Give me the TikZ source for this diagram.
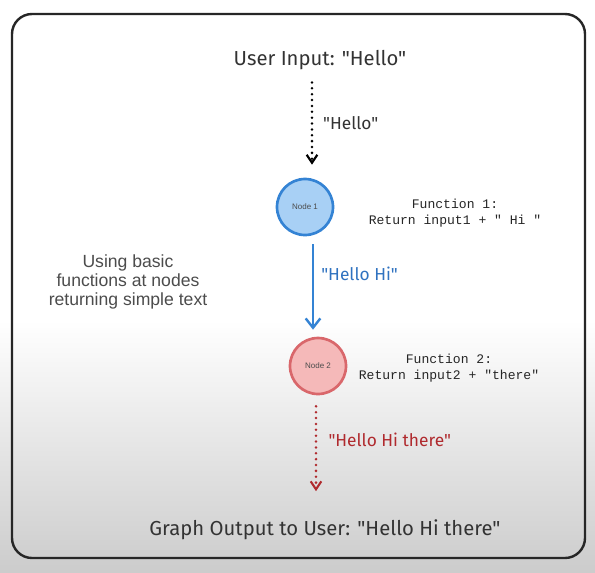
\documentclass[tikz,border=0pt]{standalone}
\usepackage{fontspec}
\setmainfont{Liberation Sans}
\setmonofont{Liberation Mono}
\newfontfamily\handfont{Fira Sans}
\usepackage{xcolor}
\usetikzlibrary{positioning,calc,arrows.meta}

\definecolor{oneline}{HTML}{3483D4}
\definecolor{onefill}{HTML}{A8D0F5}
\definecolor{twoline}{HTML}{D9676B}
\definecolor{twofill}{HTML}{F5B9B9}
\definecolor{onetext}{HTML}{2F72C0}
\definecolor{twotext}{HTML}{B02A2E}

\tikzset{
    hand/.style={font=\handfont\fontsize{13}{15}\selectfont, text=black!80},
    bighand/.style={font=\handfont\fontsize{15.2}{17}\selectfont, text=black!80},
    bubble/.style={circle, line width=2pt, minimum size=42pt, inner sep=0pt,
        font=\fontsize{6}{7}\selectfont, text=black!70},
    func/.style={font=\ttfamily\fontsize{9.8}{12}\selectfont, align=center, text=black!85},
    note/.style={font=\fontsize{13.2}{14.2}\selectfont, align=center, text=black!70},
    dotflow/.style={line width=2.1pt, line cap=round, dash pattern=on 0pt off 4.4pt,
        -{Straight Barb[length=6pt,width=8pt,line width=1.6pt]}},
    flow/.style={line width=1.8pt, -{Straight Barb[length=7pt,width=11pt,line width=1.8pt]}}
}

\begin{document}
\begin{tikzpicture}[x=0.75pt,y=-0.75pt]
    \fill [white] (0,0) rectangle (595,320);
    \shade [top color=white, bottom color=black!20] (0,320) rectangle (595,572);
    \useasboundingbox (0,0) rectangle (595,572);
    \draw [line width=1.8pt, rounded corners=15pt, black!85] (12,14) rectangle (585,558); % frame

    \node [bighand] (input) at (320,60) {User Input: "Hello"};
    \node [bubble, fill=onefill, draw=oneline] (n1) at (305,207) {Node 1};
    \node [bubble, fill=twofill, draw=twoline] (n2) at (318,366) {Node 2};
    \node [func] (f1) at (455,213) {Function 1:\\Return input1 + " Hi "};
    \node [func] (f2) at (449,368) {Function 2:\\Return input2 + "there"};
    \node [note] (note) at (128,282) {Using basic\\functions at nodes\\returning simple text};
    \node [bighand] (output) at (325,530) {Graph Output to User: "Hello Hi there"};

    % edges
    \draw [dotflow] ($(input.south)+(-8,8)$) -- ($(n1.north)+(7,-13)$)
        node [midway, right=4pt, hand] {"Hello"};
    \draw [flow, oneline] ($(n1.south)+(8,8)$) -- ($(n2.north)+(-5,-7)$)
        node [pos=0.35, right=2pt, hand, text=onetext] {"Hello Hi"};
    \draw [dotflow, twotext] ($(n2.south)+(-2,11)$) -- ($(output.north)+(-9,-24)$)
        node [pos=0.4, right=5pt, hand, text=twotext] {"Hello Hi there"};
\end{tikzpicture}
\end{document}
